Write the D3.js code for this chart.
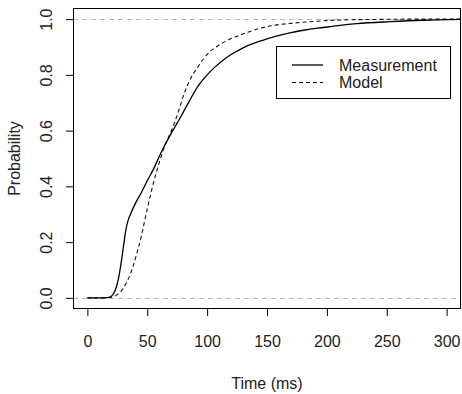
<!DOCTYPE html>
<html>
<head>
<meta charset="utf-8">
<script src="https://cdn.jsdelivr.net/npm/d3@7/dist/d3.min.js"></script>
<style>
html,body{margin:0;padding:0;background:#fff;}
svg{display:block;}
text{font-family:"Liberation Sans",Arial,Helvetica,sans-serif;fill:#222;}
</style>
</head>
<body>
<script>
// Data
const measurementTime = [0, 10, 18, 20, 22, 24, 26, 28, 30, 32, 34, 36, 40, 45, 50, 55, 62, 70, 78, 85, 92, 100, 106, 113, 120, 127, 133, 145, 157, 170, 183, 197, 211, 225, 253, 280, 312];
const measurementProb = [0, 0, 0.002, 0.006, 0.016, 0.036, 0.07, 0.12, 0.18, 0.24, 0.278, 0.300, 0.338, 0.377, 0.42, 0.46, 0.525, 0.59, 0.65, 0.705, 0.757, 0.80, 0.826, 0.852, 0.873, 0.890, 0.903, 0.922, 0.938, 0.952, 0.962, 0.970, 0.978, 0.984, 0.991, 0.996, 0.999];
const modelTime = [0, 10, 18, 22, 26, 30, 33, 36, 39, 42, 45, 48, 51, 55, 60, 65, 70, 76, 81, 86, 92, 97, 103, 110, 117, 130, 144, 156, 170, 183, 197, 211, 240, 270, 312];
const modelProb = [0, 0, 0.001, 0.005, 0.015, 0.035, 0.058, 0.086, 0.125, 0.17, 0.22, 0.28, 0.337, 0.41, 0.485, 0.55, 0.598, 0.668, 0.735, 0.785, 0.827, 0.858, 0.886, 0.907, 0.924, 0.947, 0.967, 0.978, 0.985, 0.990, 0.994, 0.997, 0.999, 1.0, 1.0];
const xTicks = [0, 50, 100, 150, 200, 250, 300];
const yTicks = [0, 0.2, 0.4, 0.6, 0.8, 1.0];
const refLines = [0, 1];
const legendLabels = ["Measurement", "Model"];
const xTitle = "Time (ms)";
const yTitle = "Probability";

const W = 462, H = 394;
const L = 73, R = 461, T = 8, B = 309;

const svg = d3.select("body").append("svg").attr("width", W).attr("height", H);

const x = d3.scaleLinear().domain([-12, 312]).range([L, R]);
const y = d3.scaleLinear().domain([-0.04, 1.04]).range([B, T]);

const clip = svg.append("clipPath").attr("id", "plotclip")
  .append("rect").attr("x", L).attr("y", T).attr("width", R - L).attr("height", B - T);

// reference lines
svg.append("g").selectAll("line").data(refLines).join("line")
  .attr("x1", L).attr("x2", R)
  .attr("y1", d => Math.round(y(d)) + 0.5).attr("y2", d => Math.round(y(d)) + 0.5)
  .attr("stroke", "#b8b8b8").attr("stroke-width", 1).attr("stroke-dasharray", "5,4");

const line = d3.line().x(d => x(d[0])).y(d => y(d[1])).curve(d3.curveMonotoneX);
const meas = measurementTime.map((t, i) => [t, measurementProb[i]]);
const model = modelTime.map((t, i) => [t, modelProb[i]]);

const g = svg.append("g").attr("clip-path", "url(#plotclip)");
g.append("path").attr("d", line(model)).attr("fill", "none")
  .attr("stroke", "#111").attr("stroke-width", 1.1).attr("stroke-dasharray", "4,3");
g.append("path").attr("d", line(meas)).attr("fill", "none")
  .attr("stroke", "#000").attr("stroke-width", 1.3);

// box
svg.append("rect").attr("x", L + 0.5).attr("y", T + 0.5)
  .attr("width", R - L - 1).attr("height", B - T - 1)
  .attr("fill", "none").attr("stroke", "#000").attr("stroke-width", 1);

// x axis
const xAxis = d3.axisBottom(x).tickValues(xTicks).tickSize(7).tickPadding(20).tickFormat(d3.format("d"));
const gx = svg.append("g").attr("transform", `translate(0,${B})`).call(xAxis);
gx.select(".domain").remove();
gx.selectAll("text").attr("font-size", 16).attr("fill", "#222").style("font-family", "Liberation Sans, Arial, sans-serif");
gx.selectAll("line").attr("stroke", "#000");

// y axis
const yAxis = d3.axisLeft(y).tickValues(yTicks).tickSize(7).tickFormat(d3.format(".1f"));
const gy = svg.append("g").attr("transform", `translate(${L},0)`).call(yAxis);
gy.select(".domain").remove();
gy.selectAll("line").attr("stroke", "#000");
gy.selectAll("text").remove();
gy.selectAll(".tick").append("text")
  .attr("transform", "translate(-27,0) rotate(-90)")
  .attr("text-anchor", "middle").attr("dy", "0.35em")
  .attr("font-size", 16).attr("fill", "#222")
  .style("font-family", "Liberation Sans, Arial, sans-serif")
  .text(d => d3.format(".1f")(d));

// titles
svg.append("text").attr("x", (L + R) / 2).attr("y", 389)
  .attr("text-anchor", "middle").attr("font-size", 16).text(xTitle);
svg.append("text").attr("transform", `translate(20,${(T + B) / 2}) rotate(-90)`)
  .attr("text-anchor", "middle").attr("font-size", 16).text(yTitle);

// legend
const lg = svg.append("g");
lg.append("rect").attr("x", 276.5).attr("y", 46.5).attr("width", 174).attr("height", 52)
  .attr("fill", "#fff").attr("stroke", "#000").attr("stroke-width", 1);
const legendStyles = [null, "4,3"];
legendLabels.forEach((lab, i) => {
  const ly = 65 + i * 17.5;
  lg.append("line").attr("x1", 292).attr("x2", 323).attr("y1", ly).attr("y2", ly)
    .attr("stroke", "#000").attr("stroke-width", i === 0 ? 1.3 : 1.1)
    .attr("stroke-dasharray", legendStyles[i]);
  lg.append("text").attr("x", 339).attr("y", ly).attr("dy", "0.35em")
    .attr("font-size", 16).text(lab);
});
</script>
</body>
</html>
